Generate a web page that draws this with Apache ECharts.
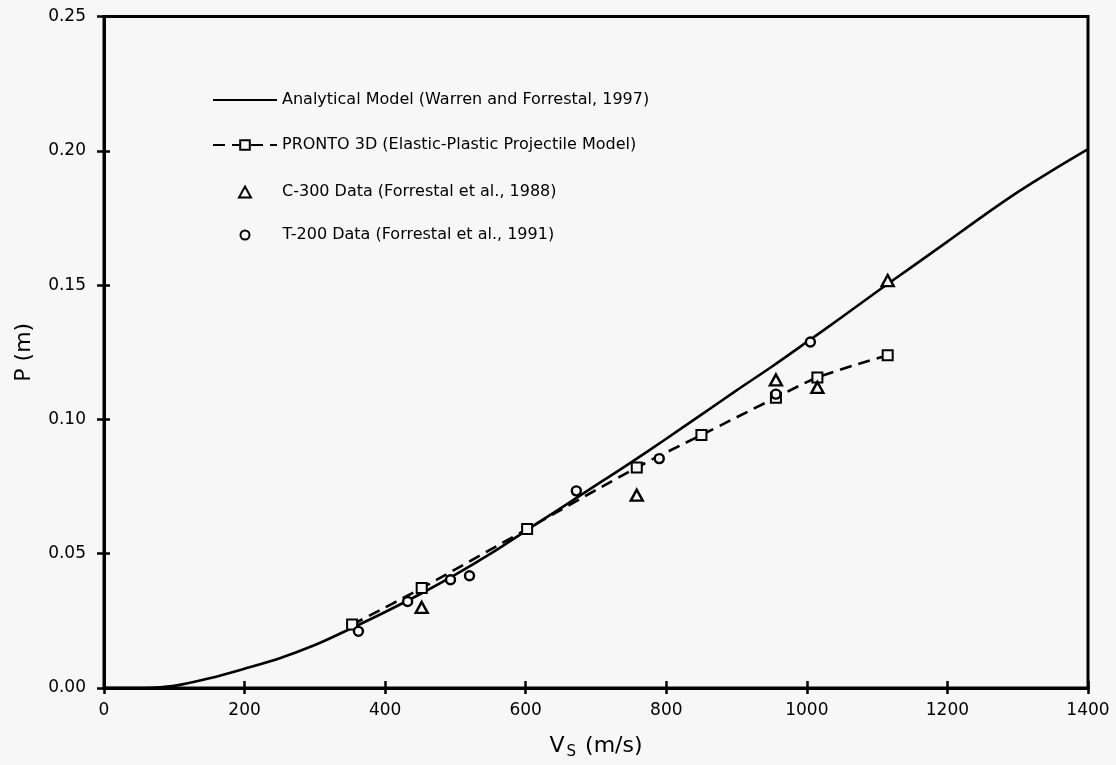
<!DOCTYPE html>
<html lang="en">
<head>
    <meta charset="UTF-8">
    <title>Penetration depth vs striking velocity</title>
    <script src="https://cdn.jsdelivr.net/npm/echarts@6/dist/echarts.min.js"></script>
    <style>
        html, body { margin: 0; padding: 0; background: #f7f7f7; }
        #chart { width: 1116px; height: 765px; }
    </style>
</head>
<body>
    <div id="chart"></div>
    <script>
        // Analytical model (Warren and Forrestal, 1997)
        const modelV = [0, 60, 100, 150, 200, 250, 300, 350, 400, 450, 500, 550, 600, 650, 700, 750, 800,
                        850, 900, 950, 1000, 1050, 1100, 1150, 1200, 1250, 1300, 1350, 1400];
        const modelP = [0, 0, 0.0008, 0.0036, 0.0072, 0.0111, 0.0160, 0.0220, 0.0283, 0.0350, 0.0422, 0.0500, 0.0585,
                        0.0670, 0.0755, 0.0840, 0.0928, 0.1018, 0.1108, 0.1196, 0.1288, 0.1381, 0.1476,
                        0.1569, 0.1662, 0.1756, 0.1846, 0.1928, 0.2006];

        // PRONTO 3D (Elastic-Plastic Projectile Model)
        const prontoV = [353, 452, 602, 758, 850, 956, 1015, 1115];
        const prontoP = [0.0236, 0.0372, 0.0592, 0.0821, 0.0942, 0.1081, 0.1156, 0.1239];

        // C-300 Data (Forrestal et al., 1988)
        const c300V = [452, 758, 956, 1015, 1115];
        const c300P = [0.0300, 0.0718, 0.1147, 0.1119, 0.1517];

        // T-200 Data (Forrestal et al., 1991)
        const t200V = [362, 432, 493, 520, 672, 790, 956, 1005];
        const t200P = [0.0211, 0.0322, 0.0403, 0.0418, 0.0734, 0.0854, 0.1094, 0.1288];

        const seriesNames = [
            'Analytical Model (Warren and Forrestal, 1997)',
            'PRONTO 3D (Elastic-Plastic Projectile Model)',
            'C-300 Data (Forrestal et al., 1988)',
            'T-200 Data (Forrestal et al., 1991)'
        ];

        const zip = (xs, ys) => xs.map((x, i) => [x, ys[i]]);
        const bg = '#f7f7f7';
        const font = 'DejaVu Sans';

        // one legend block per row, so each key can have its own icon box
        function legendRow(name, left, top, w, h, textPad) {
            return {
                orient: 'vertical',
                left: left,
                top: top,
                padding: 0,
                itemWidth: w,
                itemHeight: h,
                selectedMode: false,
                textStyle: {
                    fontFamily: font, fontSize: 16, color: '#000', lineHeight: 16,
                    padding: [0, 0, 0, textPad]
                },
                data: [name]
            };
        }

        const chart = echarts.init(document.getElementById('chart'));

        const option = {
            backgroundColor: bg,
            animation: false,
            textStyle: { fontFamily: font, color: '#000' },
            grid: {
                left: 104, right: 28, top: 16.5, bottom: 76.5,
                show: true, borderColor: '#000', borderWidth: 3, backgroundColor: 'transparent'
            },
            legend: [
                legendRow(seriesNames[0], 212, 92, 64, 12, 0),
                legendRow(seriesNames[1], 212, 137, 64, 12, 0),
                legendRow(seriesNames[2], 238, 184, 12, 11, 26),
                legendRow(seriesNames[3], 239.5, 227, 9, 9, 28)
            ],
            xAxis: [{
                type: 'value', min: 0, max: 1400, interval: 200,
                position: 'bottom',
                axisLine: { lineStyle: { color: '#000', width: 3 } },
                axisTick: { inside: false, length: 6, lineStyle: { color: '#000', width: 2.5 } },
                axisLabel: {
                    fontFamily: font, fontSize: 17, color: '#000', margin: 14,
                    formatter: v => String(v)
                },
                splitLine: { show: false },
                name: '{v|V}{s|S}{v| (m/s)}',
                nameLocation: 'middle',
                nameGap: 45,
                nameTextStyle: {
                    rich: {
                        v: { fontFamily: font, fontSize: 22, color: '#000' },
                        s: { fontFamily: font, fontSize: 15, color: '#000', padding: [12, 2, 0, 2] }
                    }
                }
            }, {
                type: 'value', min: 0, max: 1400, interval: 200,
                position: 'bottom', offset: 0,
                axisLine: { show: false },
                axisTick: { inside: true, length: 7, lineStyle: { color: '#000', width: 2.5 } },
                axisLabel: { show: false },
                splitLine: { show: false }
            }],
            yAxis: [{
                type: 'value', min: 0, max: 0.25, interval: 0.05,
                position: 'left',
                axisLine: { show: true, lineStyle: { color: '#000', width: 3 } },
                axisTick: { show: true, inside: false, length: 7, lineStyle: { color: '#000', width: 2.5 } },
                axisLabel: {
                    fontFamily: font, fontSize: 17, color: '#000', margin: 18,
                    formatter: v => v.toFixed(2)
                },
                splitLine: { show: false },
                name: 'P (m)',
                nameLocation: 'middle',
                nameGap: 69,
                nameTextStyle: { fontFamily: font, fontSize: 22, color: '#000' }
            }, {
                type: 'value', min: 0, max: 0.25, interval: 0.05,
                position: 'left', offset: 0,
                axisLine: { show: false },
                axisTick: { show: true, inside: true, length: 6, lineStyle: { color: '#000', width: 2.5 } },
                axisLabel: { show: false },
                splitLine: { show: false }
            }],
            series: [{
                name: seriesNames[0],
                type: 'line',
                data: zip(modelV, modelP),
                smooth: 0.3,
                symbol: 'none',
                lineStyle: { color: '#000', width: 2.6 },
                itemStyle: { color: 'transparent', borderWidth: 0 },
                z: 2
            }, {
                name: seriesNames[1],
                type: 'line',
                data: zip(prontoV, prontoP),
                smooth: 0.3,
                symbol: 'rect',
                symbolSize: 10,
                lineStyle: { color: '#000', width: 2.6, type: [12, 7] },
                itemStyle: { color: bg, borderColor: '#000', borderWidth: 2, opacity: 1 },
                z: 3
            }, {
                name: seriesNames[2],
                type: 'scatter',
                data: zip(c300V, c300P),
                symbol: 'triangle',
                symbolSize: [12, 11],
                itemStyle: { color: bg, borderColor: '#000', borderWidth: 2.4, opacity: 1 },
                z: 4
            }, {
                name: seriesNames[3],
                type: 'scatter',
                data: zip(t200V, t200P),
                symbol: 'circle',
                symbolSize: 9,
                itemStyle: { color: bg, borderColor: '#000', borderWidth: 2.4, opacity: 1 },
                z: 4
            }]
        };

        chart.setOption(option);
    </script>
</body>
</html>
